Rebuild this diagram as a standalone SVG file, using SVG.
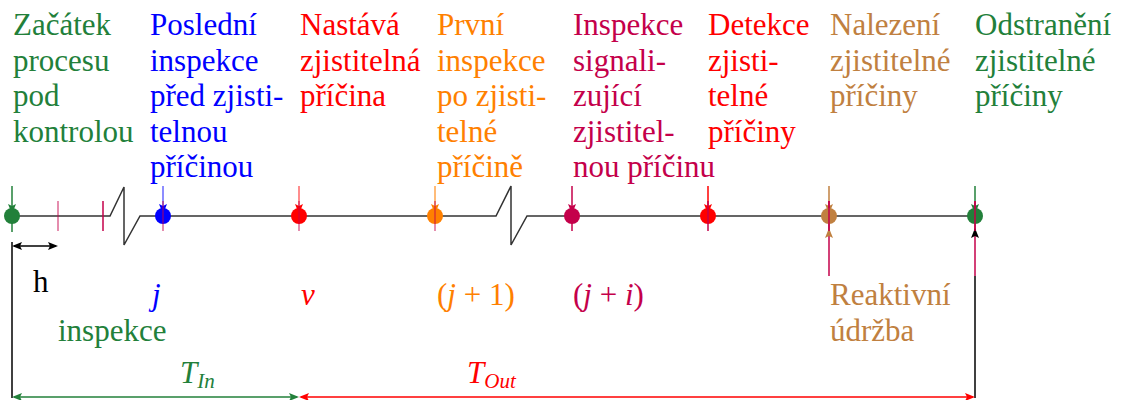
<svg xmlns="http://www.w3.org/2000/svg" width="1131" height="400" viewBox="0 0 1131 400">
<g id="connectors" stroke-width="1.5">
<path d="M12,216 H110 L124,187 V245 L140,216 H496 L511,186 V245 L527,216 H975" stroke="#333" fill="none"/>
<line x1="58" y1="201" x2="58" y2="231" stroke="#c4004a" stroke-opacity="0.6"/>
<line x1="103" y1="201" x2="103" y2="231" stroke="#c4004a"/>
<line x1="12" y1="186" x2="12" y2="232" stroke="#22803a"/>
<polygon points="8,204 12,214 16,204 12,206" fill="#22803a" stroke="none"/>
<line x1="163" y1="186" x2="163" y2="210" stroke="#0000ff" stroke-opacity="0.6"/>
<polygon points="159,204 163,214 167,204 163,206" fill="#0000ff" stroke="none"/>
<line x1="299" y1="186" x2="299" y2="210" stroke="#ff0000" stroke-opacity="0.6"/>
<polygon points="295,204 299,214 303,204 299,206" fill="#ff0000" stroke="none"/>
<line x1="435" y1="186" x2="435" y2="210" stroke="#ff8000" stroke-opacity="0.7"/>
<polygon points="431,204 435,214 439,204 435,206" fill="#ff8000" stroke="none"/>
<line x1="572" y1="186" x2="572" y2="231" stroke="#c4004a"/>
<polygon points="568,204 572,214 576,204 572,206" fill="#c4004a" stroke="none"/>
<line x1="708" y1="186" x2="708" y2="210" stroke="#ff0000"/>
<polygon points="704,204 708,214 712,204 708,206" fill="#ff0000" stroke="none"/>
<line x1="829" y1="186" x2="829" y2="210" stroke="#c08040"/>
<polygon points="825,204 829,214 833,204 829,206" fill="#c08040" stroke="none"/>
<line x1="975" y1="186" x2="975" y2="210" stroke="#22803a"/>
<polygon points="971,204 975,214 979,204 975,206" fill="#22803a" stroke="none"/>
<line x1="12" y1="242" x2="12" y2="398" stroke="#000"/>
<line x1="14" y1="246" x2="56" y2="246" stroke="#000"/>
<polygon points="12,246 22,242 20,246 22,250" fill="#000" stroke="none"/>
<polygon points="58,246 48,242 50,246 48,250" fill="#000" stroke="none"/>
<line x1="975" y1="276" x2="975" y2="398" stroke="#000"/>
<line x1="14" y1="397" x2="297" y2="397" stroke="#22803a"/>
<polygon points="12,397 22,393 20,397 22,401" fill="#22803a" stroke="none"/>
<polygon points="299,397 289,393 291,397 289,401" fill="#22803a" stroke="none"/>
<line x1="301" y1="397" x2="973" y2="397" stroke="#ff0000"/>
<polygon points="299,397 309,393 307,397 309,401" fill="#ff0000" stroke="none"/>
<polygon points="975,397 965,393 967,397 965,401" fill="#ff0000" stroke="none"/>
<line x1="829" y1="201" x2="829" y2="276" stroke="#c4004a"/>
<polygon points="825,238 829,228 833,238 829,236" fill="#c08040" stroke="none"/>
<line x1="975" y1="201" x2="975" y2="276" stroke="#c4004a"/>
<polygon points="971,238 975,228 979,238 975,236" fill="#000" stroke="none"/>
</g>

<g id="n-start"><circle cx="12" cy="216" r="8" fill="#22803a"/>
<text fill="#22803a" font-family="Liberation Serif" font-size="31"><tspan x="13" y="35">Začátek</tspan><tspan x="13" y="71">procesu</tspan><tspan x="13" y="106">pod</tspan><tspan x="13" y="142">kontrolou</tspan></text></g>

<g id="n-last"><circle cx="163" cy="216" r="8" fill="#0000ff"/>
<text fill="#0000ff" font-family="Liberation Serif" font-size="31"><tspan x="150" y="35">Poslední</tspan><tspan x="150" y="71">inspekce</tspan><tspan x="150" y="106">před zjisti-</tspan><tspan x="150" y="142">telnou</tspan><tspan x="150" y="177">příčinou</tspan></text>
<text fill="#0000ff" font-family="Liberation Serif" font-size="31" font-style="italic" x="152" y="305">j</text></g>

<g id="n-cause"><circle cx="299" cy="216" r="8" fill="#ff0000"/>
<text fill="#ff0000" font-family="Liberation Serif" font-size="31"><tspan x="300" y="35">Nastává</tspan><tspan x="300" y="71">zjistitelná</tspan><tspan x="300" y="106">příčina</tspan></text>
<text fill="#ff0000" font-family="Liberation Serif" font-size="31" font-style="italic" x="301" y="305">ν</text></g>

<g id="n-first"><circle cx="435" cy="216" r="8" fill="#ff8000"/>
<text fill="#ff8000" font-family="Liberation Serif" font-size="31"><tspan x="437" y="35">První</tspan><tspan x="437" y="71">inspekce</tspan><tspan x="437" y="106">po zjisti-</tspan><tspan x="437" y="142">telné</tspan><tspan x="437" y="177">příčině</tspan></text>
<text fill="#ff8000" font-family="Liberation Serif" font-size="31" x="437" y="305">(<tspan font-style="italic">j</tspan> + 1)</text></g>

<g id="n-signal"><circle cx="572" cy="216" r="8" fill="#c4004a"/>
<text fill="#c4004a" font-family="Liberation Serif" font-size="31"><tspan x="573" y="35">Inspekce</tspan><tspan x="573" y="71">signali-</tspan><tspan x="573" y="106">zující</tspan><tspan x="573" y="142">zjistitel-</tspan><tspan x="573" y="177">nou příčinu</tspan></text>
<text fill="#c4004a" font-family="Liberation Serif" font-size="31" x="573" y="305">(<tspan font-style="italic">j</tspan> + <tspan font-style="italic">i</tspan>)</text></g>

<g id="n-detect"><circle cx="708" cy="216" r="8" fill="#ff0000"/>
<text fill="#ff0000" font-family="Liberation Serif" font-size="31"><tspan x="708" y="35">Detekce</tspan><tspan x="708" y="71">zjisti-</tspan><tspan x="708" y="106">telné</tspan><tspan x="708" y="142">příčiny</tspan></text></g>

<g id="n-found"><circle cx="829" cy="216" r="8" fill="#c08040"/>
<text fill="#c08040" font-family="Liberation Serif" font-size="31"><tspan x="830" y="35">Nalezení</tspan><tspan x="830" y="71">zjistitelné</tspan><tspan x="830" y="106">příčiny</tspan></text>
<text fill="#c08040" font-family="Liberation Serif" font-size="31"><tspan x="830" y="305">Reaktivní</tspan><tspan x="830" y="341">údržba</tspan></text></g>

<g id="n-remove"><circle cx="975" cy="216" r="8" fill="#22803a"/>
<text fill="#22803a" font-family="Liberation Serif" font-size="31"><tspan x="975" y="35">Odstranění</tspan><tspan x="975" y="71">zjistitelné</tspan><tspan x="975" y="106">příčiny</tspan></text></g>

<g id="ticks" stroke-width="1.5">
<line x1="163" y1="201" x2="163" y2="231" stroke="#c4004a" stroke-opacity="0.6"/>
<line x1="299" y1="201" x2="299" y2="231" stroke="#c4004a" stroke-opacity="0.6"/>
<line x1="435" y1="201" x2="435" y2="231" stroke="#c4004a" stroke-opacity="0.6"/>
<line x1="708" y1="201" x2="708" y2="231" stroke="#c4004a"/>
<line x1="829" y1="201" x2="829" y2="231" stroke="#c4004a"/>
<line x1="975" y1="201" x2="975" y2="231" stroke="#c4004a"/>
</g>

<g id="labels">
<text fill="#000" font-family="Liberation Serif" font-size="31" x="33" y="292">h</text>
<text fill="#22803a" font-family="Liberation Serif" font-size="31" x="58" y="341">inspekce</text>
<text fill="#22803a" font-family="Liberation Serif" font-size="31" font-style="italic" x="180" y="383">T<tspan font-size="21" dy="5">In</tspan></text>
<text fill="#ff0000" font-family="Liberation Serif" font-size="31" font-style="italic" x="467" y="383">T<tspan font-size="21" dy="5">Out</tspan></text>
</g>
</svg>
